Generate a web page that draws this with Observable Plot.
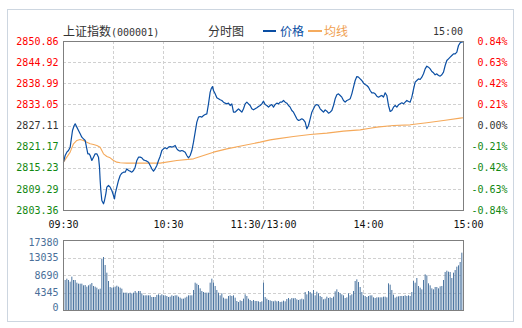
<!DOCTYPE html>
<html><head><meta charset="utf-8">
<script src="https://cdn.jsdelivr.net/npm/d3@7"></script>
<script src="https://cdn.jsdelivr.net/npm/@observablehq/plot@0.6"></script>
<style>
body{margin:0;background:#fff;}
#wrap{position:relative;width:522px;height:328px;overflow:hidden;font-family:"DejaVu Sans Mono",monospace;}
#box{position:absolute;left:7px;top:9px;border:1px solid #cdd6e0;box-sizing:border-box;width:507px;height:313px;}
.t{position:absolute;white-space:nowrap;line-height:12px;font-size:12px;}
.cjk{font-family:"Noto Sans CJK SC",sans-serif;}
.sw{position:absolute;height:2px;}
#main,#vol{position:absolute;left:0;}
#main{top:0;}
#vol{top:230px;}
</style></head>
<body><div id="wrap">
<div id="box"></div>
<div class="t" style="left:63px;top:25px;color:#333"><span class="cjk">上证指数</span><span style="font-size:10px">(000001)</span></div>
<div class="t cjk" style="left:208px;top:25px;color:#333">分时图</div>
<div class="sw" style="left:263px;top:30px;width:13px;background:#0a4ea3"></div>
<div class="t cjk" style="left:280px;top:25px;color:#0a4ea3">价格</div>
<div class="sw" style="left:308px;top:30px;width:14px;background:#f5ab5e"></div>
<div class="t cjk" style="left:324px;top:25px;color:#f0a050">均线</div>
<div class="t" style="left:433px;top:26px;font-size:10px;color:#333">15:00</div>
<div id="main"></div>
<div id="vol"></div>
</div>
<script>
// ---- data ----
const priceTicks = [2850.86, 2844.92, 2838.99, 2833.05, 2827.11, 2821.17, 2815.23, 2809.29, 2803.36];
const priceLabels = ["2850.86","2844.92","2838.99","2833.05","2827.11","2821.17","2815.23","2809.29","2803.36"];
const pctLabels = ["0.84%","0.63%","0.42%","0.21%","0.00%","-0.21%","-0.42%","-0.63%","-0.84%"];
const timeTickMinutes = [0, 60, 120, 180, 240];
const timeLabels = ["09:30", "10:30", "11:30/13:00", "14:00", "15:00"];
const gridMinutes = [30, 60, 90, 120, 150, 180, 210];
const volTicks = [17380, 13035, 8690, 4345, 0];
const volLabels = ["17380", "13035", "8690", "4345", "0"];

const priceMinutes = [0,1,2,3,4,5.4,6.4,7,8,9,10,11,12,13,14,14.6,15.4,16,17,18,19,20,21,21.6,22,22.4,23,24,24.6,25.4,26,27,28,29,30,30.6,31,32,33,34,35,36,37,38,39,40,41,42,43,44,45,46,47,48,49,50,51,52,53,54,55,56,57,58,59,60,61,62,63,64,65,66,67,68,69,70,71,72,73,74,75,76,77,78,79,80,81,82,83,84,85,86,87,88,88.6,89.4,90,91,92,93,94,95,96,97,98,99,100,101,102,103,104,105,106,107,108,109,110,111,112,113,114,115,116,117,118,119,120,121,122,123,124,125,126,127,128,129,130,131,132,133,134,135,136,137,138,139,140,141,142,143,144,145,146,147,148,149,150,151,152,153,154,155,156,157,158,159,160,161,162,163,164,165,166,167,168,169,170,171,172,173,174,175,176,177,178,179,180,181,182,183,184,185,186,187,188,189,190,191,192,193,194,195,196,197,198,199,200,201,202,203,204,205,206,207,208,209,210,211,212,213,214,215,216,217,218,219,220,221,222,223,224,225,226,227,228,229,230,231,232,233,234,235,236,237,238,239,240];
const prices = [2816.95,2818.82,2819.76,2820.23,2821.16,2825.85,2827.25,2827.72,2826.79,2825.85,2824.91,2823.97,2823.51,2823.04,2820.70,2819.29,2819.29,2818.82,2817.42,2818.35,2819.29,2819.29,2818.35,2815.54,2811.80,2808.99,2806.17,2805.24,2806.17,2808.05,2809.92,2810.39,2809.92,2808.99,2807.58,2806.64,2808.05,2809.92,2811.80,2813.20,2813.86,2814.14,2814.14,2815.07,2814.61,2814.42,2814.14,2814.61,2815.54,2817.42,2818.35,2818.35,2818.17,2817.60,2817.42,2817.23,2816.95,2816.01,2815.07,2814.42,2815.07,2816.01,2817.42,2818.60,2820.22,2820.69,2820.97,2820.69,2821.16,2821.35,2821.16,2821.35,2821.63,2820.69,2820.22,2820.04,2820.22,2820.04,2819.76,2818.82,2818.16,2818.82,2820.22,2822.57,2825.38,2828.19,2829.59,2829.78,2829.59,2830.06,2830.34,2830.53,2833.34,2836.62,2837.56,2838.21,2837.09,2836.15,2835.03,2834.75,2834.47,2834.28,2833.81,2833.53,2833.34,2833.53,2832.87,2833.34,2831.00,2831.00,2831.47,2831.94,2831.47,2831.00,2831.94,2833.34,2833.81,2833.34,2832.87,2831.94,2831.65,2831.94,2832.22,2832.59,2832.87,2833.34,2834.09,2833.15,2832.87,2832.40,2832.87,2833.15,2832.40,2833.15,2833.53,2833.34,2833.81,2833.81,2834.28,2833.81,2833.53,2832.87,2832.40,2831.47,2831.00,2830.06,2829.12,2828.66,2828.84,2829.12,2828.84,2828.19,2826.31,2827.25,2829.12,2831.00,2831.94,2832.87,2833.15,2832.87,2831.94,2831.47,2831.00,2831.65,2831.28,2830.72,2831.00,2831.47,2832.87,2834.75,2835.87,2836.15,2835.68,2835.21,2834.28,2833.81,2834.28,2834.47,2834.75,2836.15,2838.03,2839.90,2841.02,2840.84,2840.37,2839.90,2839.15,2838.77,2838.50,2838.00,2837.09,2836.44,2836.44,2836.15,2835.50,2835.22,2835.50,2835.69,2835.22,2836.44,2835.69,2832.88,2831.19,2831.47,2832.41,2832.88,2832.41,2833.06,2833.34,2833.63,2833.34,2833.81,2834.28,2834.00,2833.81,2835.22,2837.37,2839.43,2839.90,2840.37,2840.18,2840.84,2841.78,2843.18,2843.93,2843.65,2843.18,2842.43,2842.06,2841.50,2841.78,2841.31,2841.12,2841.50,2842.24,2844.12,2845.52,2845.99,2846.46,2846.93,2847.40,2847.40,2847.87,2849.74,2850.49,2850.70,2850.86];

const avgMinutes = [0,2,4,6,8,10,12,14,16,18,20,22,24,26,28,30,32,34,38,48,58,68,78,84,90,98,108,118,124,128,138,148,158,168,178,184,188,198,208,218,228,238,240];
const avgPrices = [2816.95,2818.35,2819.76,2822.10,2823.04,2823.32,2823.04,2822.57,2822.10,2821.91,2821.63,2821.16,2819.29,2818.54,2818.17,2817.42,2816.95,2816.76,2816.67,2816.67,2816.67,2817.41,2817.88,2818.82,2819.76,2820.69,2821.63,2822.57,2823.22,2823.50,2824.16,2824.72,2825.10,2825.66,2826.03,2826.50,2826.79,2827.26,2827.44,2828.01,2828.66,2829.32,2829.41];

// one bar per minute, minutes 1..240
const volumes = [
7448,7779,7448,7035,8276,7448,7448,6786,6538,6538,6538,6124,6207,5793,6124,6373,6704,5959,5793,5545,5131,5297,12745,13159,11173,9269,7200,5710,5545,5628,
5793,6041,5793,5545,5297,4304,4304,4304,4138,4304,4138,4304,4717,4304,4717,4717,4138,3641,3641,3641,3641,3641,3228,3228,3228,3724,3890,3641,3890,3641,
3641,3476,3228,3310,3641,3476,3641,3641,3310,3062,2814,2814,3062,3310,3641,3641,3641,4966,6786,6538,6207,5379,4717,4469,4304,4304,4304,6786,7779,6786,
5959,4966,4304,3641,4138,3062,2814,2814,3476,3641,3476,3641,3062,2235,1986,2400,2235,2814,3890,3476,2814,2483,2235,2483,2235,2235,2152,1986,2152,6786,
3228,2814,2483,2400,2235,2152,2317,2152,2235,1986,2069,2317,2152,2731,2979,2648,2979,2897,2979,2648,2483,2648,2814,2648,4469,3890,4717,4469,4138,4966,
3641,4552,4138,3476,3228,2648,2814,3310,2979,3145,2979,3310,4635,5131,4469,4138,3890,3641,2979,3145,4138,3641,3890,4717,7200,7614,6952,5710,4469,3641,
3476,3228,3476,3641,3641,3145,2979,3145,3145,3145,3145,3310,3310,3145,6621,6290,4966,3807,3062,3310,3393,3476,3476,3476,3641,3476,3641,3476,4469,7200,
6786,7945,5959,5545,5131,7448,8855,8607,6621,6124,5379,5131,5710,5710,5379,5876,5959,7448,9435,9766,9517,9435,7945,9269,9931,10759,11090,11917,14235,15476];

// ---- style constants ----
const RED = "#ff0000", GREEN = "#118811", NEUTRAL = "#333333";
const labelColor = (i) => i < 4 ? RED : (i === 4 ? NEUTRAL : GREEN);
const gridStyle = {stroke: "#d0d0d0", strokeOpacity: 1, strokeDasharray: "3,2", shapeRendering: "crispEdges"};

const pricePts = priceMinutes.map((m, i) => ({m, v: prices[i]}));
const avgPts = avgMinutes.map((m, i) => ({m, v: avgPrices[i]}));
const tickIdx = priceTicks.map((d, i) => i);

const main = Plot.plot({
  width: 522, height: 230,
  marginLeft: 63, marginRight: 59, marginTop: 41, marginBottom: 20,
  x: {domain: [0, 240], axis: null},
  y: {domain: [2803.36, 2850.86], axis: null},
  color: {type: "identity"},
  style: {fontFamily: "DejaVu Sans Mono", fontSize: "10px", overflow: "visible", background: "transparent"},
  marks: [
    Plot.gridX(gridMinutes, gridStyle),
    Plot.gridY(priceTicks.slice(1, -1), gridStyle),
    Plot.line(avgPts, {x: "m", y: "v", stroke: "#f5a95a", strokeWidth: 1.1}),
    Plot.line(pricePts, {x: "m", y: "v", stroke: "#0a4ea3", strokeWidth: 1.2}),
    Plot.frame({stroke: "#7f7f7f", shapeRendering: "crispEdges"}),
    Plot.text(tickIdx, {y: i => priceTicks[i], text: i => priceLabels[i], frameAnchor: "left", textAnchor: "end", dx: -5, fill: i => labelColor(i)}),
    Plot.text(tickIdx, {y: i => priceTicks[i], text: i => pctLabels[i], frameAnchor: "right", textAnchor: "end", dx: 44, fill: i => labelColor(i)}),
    Plot.text([0, 2], {x: i => timeTickMinutes[i], text: i => timeLabels[i], frameAnchor: "bottom", dy: 17, fill: "#111"}),
    Plot.text([1, 3, 4], {x: i => timeTickMinutes[i], text: i => timeLabels[i], frameAnchor: "bottom", dy: 17, dx: 5, fill: "#111"})
  ]
});
document.getElementById("main").appendChild(main);

const volIdx = volumes.map((d, i) => i);
const VOLC = "#4a6f99";
const vol = Plot.plot({
  width: 522, height: 90,
  marginLeft: 63, marginRight: 59, marginTop: 10, marginBottom: 10,
  x: {domain: [0, 240], axis: null},
  y: {domain: [0, 17380], axis: null},
  style: {fontFamily: "DejaVu Sans Mono", fontSize: "10px", overflow: "visible", background: "transparent"},
  marks: [
    Plot.gridX(gridMinutes, gridStyle),
    Plot.gridY(volTicks.slice(1, -1), gridStyle),
    Plot.ruleX(volIdx, {x: i => i + 1, y1: 0, y2: i => volumes[i], stroke: "#4e77a2", strokeWidth: 1}),
    Plot.frame({stroke: "#7f7f7f", shapeRendering: "crispEdges"}),
    Plot.text([0], {y: i => volTicks[i], text: i => volLabels[i], frameAnchor: "left", textAnchor: "end", dx: -5, dy: 2, fill: VOLC}),
    Plot.text([1, 2, 3], {y: i => volTicks[i], text: i => volLabels[i], frameAnchor: "left", textAnchor: "end", dx: -5, fill: VOLC}),
    Plot.text([4], {y: i => volTicks[i], text: i => volLabels[i], frameAnchor: "left", textAnchor: "end", dx: -5, dy: -3, fill: VOLC})
  ]
});
document.getElementById("vol").appendChild(vol);
</script>
</body></html>
